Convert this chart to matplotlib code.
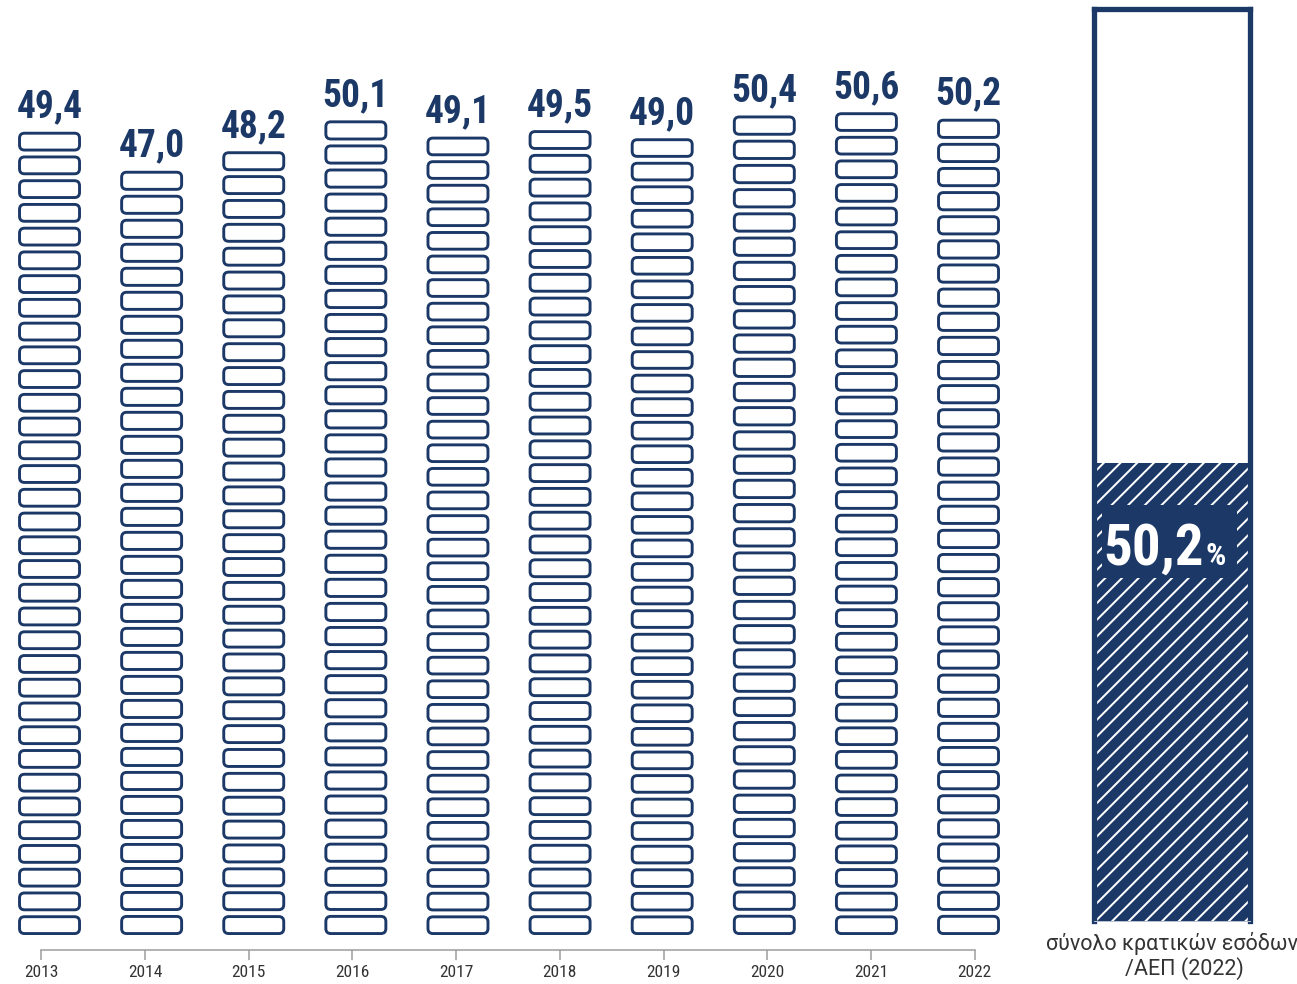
import matplotlib
matplotlib.use('Agg')
import matplotlib.pyplot as plt
from matplotlib.patches import FancyBboxPatch, Rectangle
from matplotlib import font_manager as fm

# ---------------- data ----------------
years = ['2013', '2014', '2015', '2016', '2017', '2018', '2019', '2020', '2021', '2022']
values = [49.4, 47.0, 48.2, 50.1, 49.1, 49.5, 49.0, 50.4, 50.6, 50.2]
value_labels = ['49,4', '47,0', '48,2', '50,1', '49,1', '49,5', '49,0', '50,4', '50,6', '50,2']
share_value = 50.2
share_label = '50,2'
share_unit = '%'
caption_line1 = 'σύνολο κρατικών εσόδων'
caption_line2 = '/ΑΕΠ (2022)'

# ---------------- style ----------------
NAVY = '#1b3867'
AXIS_GRAY = '#9a9a9a'
TEXT_DARK = '#333333'
W, H, DPI = 1297, 984, 100

available = {f.name for f in fm.fontManager.ttflist}


def pick(*names):
    for n in names:
        if n in available:
            return n
    return 'DejaVu Sans'


BOLD_FONT = pick('Roboto Condensed', 'Roboto', 'Liberation Sans Narrow')
NARROW_FONT = pick('Liberation Sans Narrow', 'Roboto Condensed', 'Roboto')
CAPTION_FONT = pick('Roboto', 'Liberation Sans')

PT = 72.0 / DPI  # points per pixel


def fx(px):
    return px / W


def fy(py):
    return 1 - py / H


fig = plt.figure(figsize=(W / DPI, H / DPI), dpi=DPI)

# ---------------- main stacked-box panel ----------------
x_min, x_max = -0.485, len(years) - 1 + 0.70
y_max = 57
px_per_y = 16.26
ax_w_px = 1040
ax_h_px = y_max * px_per_y
ax = fig.add_axes([0, fy(935), fx(ax_w_px), ax_h_px / H])
ax.set_xlim(x_min, x_max)
ax.set_ylim(0, y_max)
ax.axis('off')

px_per_x = ax_w_px / (x_max - x_min)
gap = 4 / px_per_y              # outer gap between boxes
lw_px = 2.9
half = lw_px / 2 / px_per_y
pitch_target = 23.9 / px_per_y
box_w = 60 / px_per_x
radius = 5 / px_per_x
aspect = px_per_x / px_per_y

for i, v in enumerate(values):
    n = int(round((v + gap) / pitch_target))
    p = (v + gap) / n
    for k in range(n):
        y0 = k * p + half
        h = p - gap - 2 * half
        patch = FancyBboxPatch((i - box_w / 2, y0), box_w, h,
                               boxstyle=f"round,pad=0,rounding_size={radius}",
                               mutation_aspect=aspect,
                               fc='white', ec=NAVY, lw=lw_px * PT, clip_on=False)
        ax.add_patch(patch)
    ax.annotate(value_labels[i], (i, v), xytext=(0, 14 * PT), textcoords='offset points',
                ha='center', va='baseline', fontsize=27, fontweight='bold',
                color=NAVY, family=BOLD_FONT, annotation_clip=False)

# ---------------- year axis ----------------
axt = fig.add_axes([fx(41.3), fy(950), fx(974.6 - 41.3), 0.0005])
axt.set_xlim(0, len(years) - 1)
axt.set_ylim(0, 1)
axt.set_xticks(range(len(years)))
axt.set_xticklabels(years, family=NARROW_FONT, fontsize=12.5, color=TEXT_DARK)
axt.set_yticks([])
for s in ['top', 'left', 'right']:
    axt.spines[s].set_visible(False)
axt.spines['bottom'].set_color(AXIS_GRAY)
axt.spines['bottom'].set_linewidth(1.5 * PT)
axt.tick_params(axis='x', direction='out', length=10 * PT, width=1.5 * PT,
                color=AXIS_GRAY, pad=3.5)
axt.patch.set_visible(False)

# ---------------- right share panel ----------------
b = 5.3
left_px = 1091 + b / 2
right_px = 1253 - b / 2
top_px = 6 + b / 2
bot_px = 921
ax3 = fig.add_axes([fx(left_px), fy(bot_px), fx(right_px - left_px), (bot_px - top_px) / H])
ax3.set_xlim(0, 1)
ax3.set_ylim(0, 100)
ax3.set_xticks([])
ax3.set_yticks([])
ax3.patch.set_facecolor('white')
plt.rcParams['hatch.linewidth'] = 2.0 * PT
ax3.bar(0.5, share_value, width=1, color=NAVY, lw=0, zorder=1)
ax3.bar(0.5, share_value, width=1, fc='none', ec='white', hatch='//', lw=0, zorder=1.5)
for s in ['top', 'left', 'right']:
    ax3.spines[s].set_color(NAVY)
    ax3.spines[s].set_linewidth(b * PT)
ax3.spines['bottom'].set_color('#b8c0d0')
ax3.spines['bottom'].set_linewidth(1.0 * PT)

# label background and label
ax3.add_patch(Rectangle((0.053, 0.376), 0.862, 0.080, transform=ax3.transAxes,
                        fc=NAVY, ec='none', zorder=3))
ax3.text(0.705, 0.390, share_label, transform=ax3.transAxes, ha='right', va='baseline',
         fontsize=41, fontweight='bold', color='white', family=BOLD_FONT, zorder=4)
ax3.text(0.715, 0.390, share_unit, transform=ax3.transAxes, ha='left', va='baseline',
         fontsize=23, fontweight='bold', color='white', family=BOLD_FONT, zorder=4)

# caption
fig.text(fx(1172), fy(950), caption_line1, ha='center', va='baseline',
         fontsize=15.5, color=TEXT_DARK, family=CAPTION_FONT)
fig.text(fx(1184), fy(975), caption_line2, ha='center', va='baseline',
         fontsize=15.5, color=TEXT_DARK, family=CAPTION_FONT)

fig.savefig('out.png', dpi=DPI)
